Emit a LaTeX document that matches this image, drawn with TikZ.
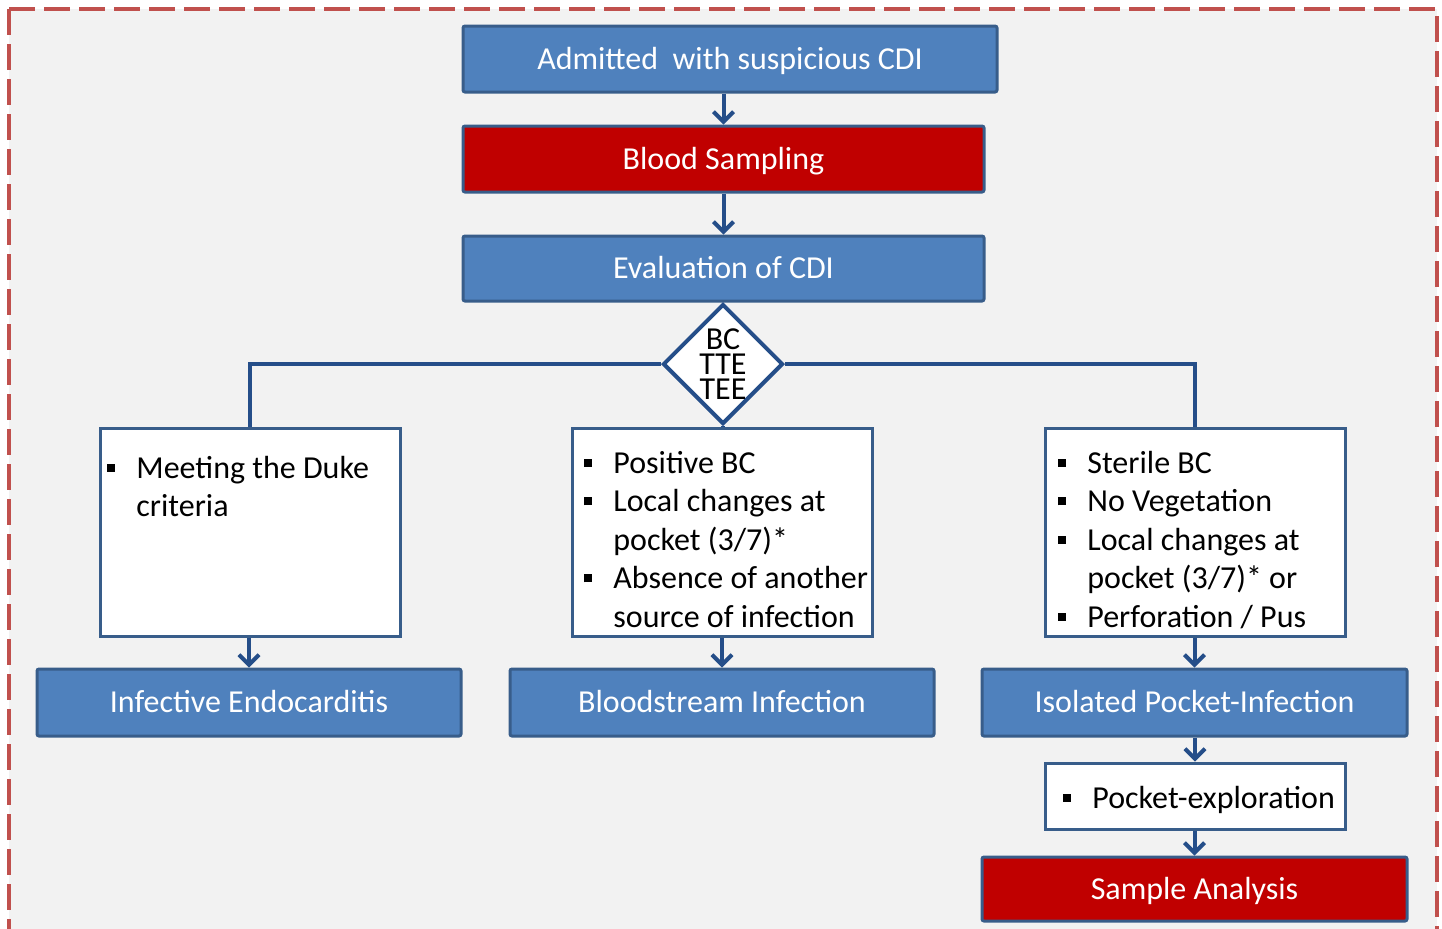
\documentclass[tikz,border=0pt]{standalone}
\usepackage{fontspec}
\setmainfont{Carlito}
\usetikzlibrary{arrows.meta,shapes.geometric,calc}
\definecolor{bg}{HTML}{F2F2F2}
\definecolor{bfill}{HTML}{4F81BD}
\definecolor{bline}{HTML}{385D8A}
\definecolor{rfill}{HTML}{C00000}
\definecolor{connc}{HTML}{254E89}
\definecolor{dashred}{HTML}{C0504D}
\newcommand{\bul}{\makebox[14.5pt][l]{\raisebox{3.3pt}{\rule{4pt}{4pt}}}}
\newcommand{\cnt}{\hspace*{14.5pt}}
\newcommand{\fst}{\rule{0pt}{12pt}}
\begin{document}
\begin{tikzpicture}[x=0.5pt,y=-0.5pt,
  bluebox/.style={draw=bline, line width=1.5pt, fill=bfill, text=white,
    font=\fontsize{16}{19}\selectfont, inner sep=0pt, rounded corners=1pt,
    text height=12.5pt, text depth=2.5pt},
  redbox/.style={bluebox, fill=rfill},
  whitebox/.style={draw=bline, line width=1.5pt, fill=white, inner sep=0pt},
  listtext/.style={anchor=north west, align=left, inner sep=0pt,
    font=\fontsize{16}{19.25}\selectfont},
  connline/.style={draw=connc, line width=2pt},
  arr/.style={connline, -{Straight Barb[length=5pt,width=10pt]}}
]
\useasboundingbox (0,0) rectangle (1442,928);
\fill[bg] (9,9) rectangle (1437,960);
\draw[dashred, line width=1.75pt, dash pattern=on 13pt off 4.5pt] (9,9) -- (9,960);
\draw[dashred, line width=1.75pt, dash pattern=on 13pt off 4.5pt] (9,9) -- (1437,9) -- (1437,960);

% top chain
\node[bluebox, minimum width=267pt, minimum height=33pt] (adm) at (730,59) {Admitted\ \ with suspicious CDI};
\node[redbox, minimum width=260.5pt, minimum height=33pt] (blood) at (723.5,159) {Blood Sampling};
\node[bluebox, minimum width=260.5pt, minimum height=32.5pt] (eval) at (723.5,268.5) {Evaluation of CDI};
\node[diamond, draw=connc, line width=2pt, fill=white, inner sep=0pt, minimum width=60pt, minimum height=60pt,
  align=center, font=\fontsize{16}{12.5}\selectfont] (dia) at (723,364) {BC\\TTE\\TEE};

% criteria boxes
\node[whitebox, minimum width=150pt, minimum height=104pt] (lbox) at (250,532) {};
\node[whitebox, minimum width=150pt, minimum height=104pt] (mbox) at (722,532) {};
\node[whitebox, minimum width=150pt, minimum height=104pt] (rbox) at (1195,532) {};

\node[listtext] (ltxt) at (107,454) {\fst\bul Meeting the Duke\\\cnt criteria};
\node[listtext] (mtxt) at (584,449) {\fst\bul Positive BC\\\bul Local changes at\\\cnt pocket (3/7)*\\\bul Absence of another\\\cnt source of infection};
\node[listtext] (rtxt) at (1058,449) {\fst\bul Sterile BC\\\bul No Vegetation\\\bul Local changes at\\\cnt pocket (3/7)* or\\\bul Perforation / Pus};

% outcomes
\node[bluebox, minimum width=212pt, minimum height=33.5pt] (ie) at (249,702.5) {Infective Endocarditis};
\node[bluebox, minimum width=212pt, minimum height=33.5pt] (bsi) at (722,702.5) {Bloodstream Infection};
\node[bluebox, minimum width=212.5pt, minimum height=33.5pt] (ipi) at (1194.5,702.5) {Isolated Pocket-Infection};
\node[whitebox, minimum width=150pt, minimum height=33pt] (pe) at (1195,796) {};
\node[listtext] (petxt) at (1063,784) {\fst\bul Pocket-exploration};
\node[redbox, minimum width=212.5pt, minimum height=32pt] (sa) at (1194.5,889) {Sample Analysis};

% connectors
\draw[arr] (blood.north |- adm.south) -- (blood.north);
\draw[arr] (blood.south) -- (eval.north);
\draw[connline] (dia.west) -| (lbox.north);
\draw[connline] (dia.east) -| (rbox.north);
\draw[connline] (dia.south) -- (mbox.north -| dia.south);
\draw[arr] (lbox.south -| ie.north) -- (ie.north);
\draw[arr] (mbox.south -| bsi.north) -- (bsi.north);
\draw[arr] (rbox.south -| ipi.north) -- (ipi.north);
\draw[arr] (ipi.south -| pe.north) -- (pe.north);
\draw[arr] (pe.south -| sa.north) -- (sa.north);
\end{tikzpicture}
\end{document}
